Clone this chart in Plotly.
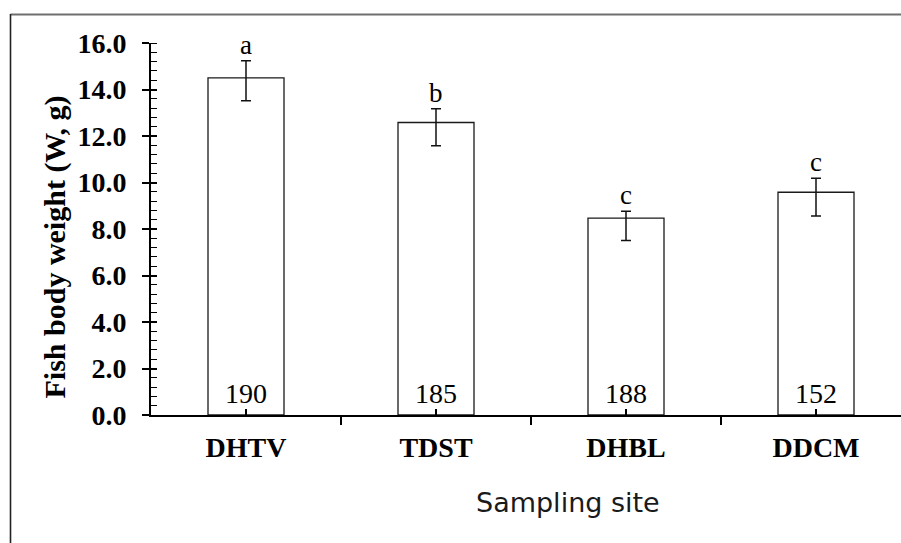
import plotly.graph_objects as go

# ---- data ----
sites = ["DHTV", "TDST", "DHBL", "DDCM"]
mean_weight = [14.5, 12.58, 8.47, 9.58]
err_up = [0.74, 0.59, 0.29, 0.60]
err_down = [0.98, 1.0, 0.97, 1.02]
sig_letters = ["a", "b", "c", "c"]
sample_n = ["190", "185", "188", "152"]
y_ticks = [0, 2, 4, 6, 8, 10, 12, 14, 16]

W, H = 901, 543
ML, MR, MT, MB = 151, 0, 43, 128
PW = W - ML - MR
PH = H - MT - MB
CAT_PX = 190.0

xpos = list(range(len(sites)))

def px_to_paper_x(px):
    return (px - ML) / PW

def px_to_paper_y(py):
    return (H - MB - py) / PH

serif = "Liberation Serif, Times New Roman, serif"

fig = go.Figure()
fig.add_trace(go.Bar(
    x=xpos, y=mean_weight, width=0.4,
    marker=dict(color="white", line=dict(color="#1a1a1a", width=1.3)),
    error_y=dict(type="data", symmetric=False, array=err_up, arrayminus=err_down,
                 color="#111111", thickness=1.5, width=5),
    showlegend=False, hoverinfo="skip",
))
# invisible trace to anchor the helper axis
fig.add_trace(go.Scatter(x=[0], y=[0], yaxis="y2", mode="markers",
                         marker=dict(opacity=0), showlegend=False, hoverinfo="skip"))

annotations = []
for i, (m, e, L, n) in enumerate(zip(mean_weight, err_up, sig_letters, sample_n)):
    annotations.append(dict(x=i, y=m + e, xref="x", yref="y", text=L, showarrow=False,
                            yanchor="bottom", yshift=-1,
                            font=dict(family=serif, size=27, color="black")))
    annotations.append(dict(x=i, y=0, xref="x", yref="y", text=n, showarrow=False,
                            yanchor="bottom", yshift=4,
                            font=dict(family=serif, size=28, color="black")))

annotations.append(dict(x=px_to_paper_x(54), y=px_to_paper_y(247.5), xref="paper", yref="paper",
                        text="Fish body weight (W, g)", textangle=-90, showarrow=False,
                        xanchor="center", yanchor="middle",
                        font=dict(family=serif, size=30, color="black", weight="bold")))
annotations.append(dict(x=px_to_paper_x(567.5), y=px_to_paper_y(502), xref="paper", yref="paper",
                        text="Sampling site", showarrow=False, xanchor="center", yanchor="middle",
                        font=dict(family="DejaVu Sans, Verdana, sans-serif", size=27, color="#1a1a1a")))

shapes = [
    dict(type="line", xref="paper", yref="paper",
         x0=px_to_paper_x(10.5), x1=px_to_paper_x(905), y0=px_to_paper_y(14.5), y1=px_to_paper_y(14.5),
         line=dict(color="#6e6e6e", width=2)),
    dict(type="line", xref="paper", yref="paper",
         x0=px_to_paper_x(10.5), x1=px_to_paper_x(10.5), y0=px_to_paper_y(14), y1=px_to_paper_y(546),
         line=dict(color="#222222", width=1.6)),
]

fig.update_layout(
    width=W, height=H,
    margin=dict(l=ML, r=MR, t=MT, b=MB, pad=0),
    plot_bgcolor="white", paper_bgcolor="white",
    annotations=annotations, shapes=shapes,
    xaxis=dict(
        range=[-0.5, -0.5 + PW / CAT_PX],
        tickmode="array", tickvals=xpos, ticktext=sites,
        ticks="inside", ticklen=6, tickwidth=1.5, tickcolor="black",
        showline=True, linecolor="black", linewidth=2,
        showgrid=False, zeroline=False,
        tickfont=dict(family=serif, size=28, color="black", weight="bold"),
        ticklabelstandoff=6,
        minor=dict(tickmode="array", tickvals=[p - 0.5 for p in xpos],
                   ticks="outside", ticklen=8, tickwidth=1.5, tickcolor="black", showgrid=False),
    ),
    yaxis=dict(
        range=[0, 16],
        tickmode="array", tickvals=y_ticks, ticktext=[f"{v:.1f}" for v in y_ticks],
        ticks="outside", ticklen=7, tickwidth=1.5, tickcolor="black",
        showline=True, linecolor="black", linewidth=2,
        showgrid=False, zeroline=False,
        tickfont=dict(family=serif, size=28, color="black", weight="bold"),
        ticklabelstandoff=10,
        minor=dict(tick0=0, dtick=0.4, ticks="inside", ticklen=6, tickwidth=1.3,
                   tickcolor="black", showgrid=False),
    ),
    yaxis2=dict(
        range=[0, 16], overlaying="y", side="left",
        tickmode="array", tickvals=y_ticks,
        ticks="inside", ticklen=6, tickwidth=1.5, tickcolor="black",
        showticklabels=False, showline=False, showgrid=False, zeroline=False,
    ),
)

fig.write_html(
    "out.html",
    config={"displayModeBar": False},
    post_script="document.body.style.margin='0';document.body.style.overflow='hidden';"
                "document.documentElement.style.overflow='hidden';",
)
